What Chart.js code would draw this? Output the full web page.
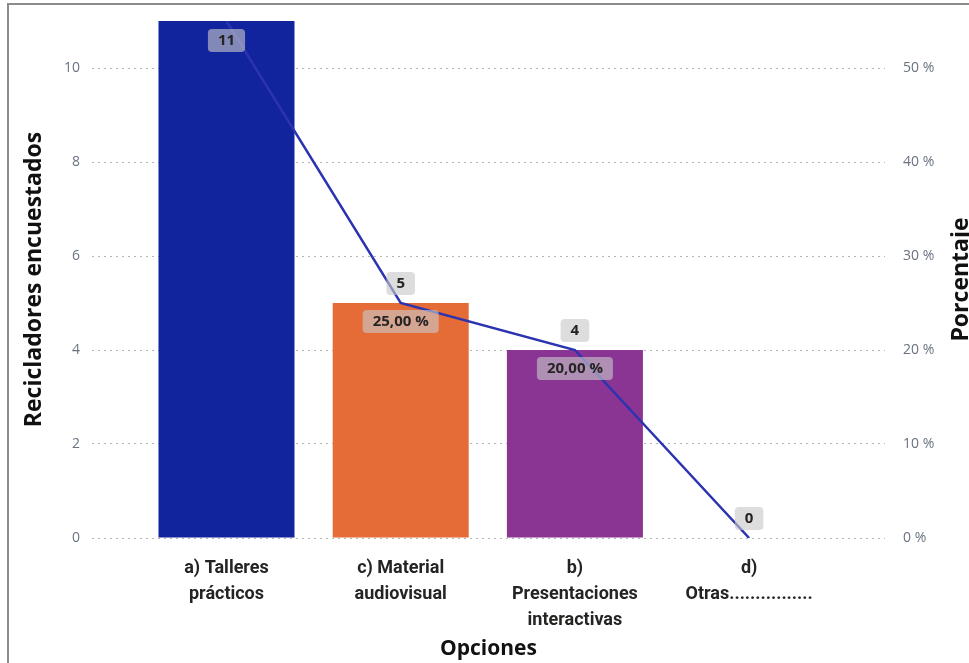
<!DOCTYPE html>
<html>
<head>
<meta charset="utf-8">
<script src="https://cdn.jsdelivr.net/npm/chart.js@4.4.1/dist/chart.umd.min.js"></script>
<style>
  html, body { margin: 0; padding: 0; background: #ffffff; overflow: hidden; width: 969px; height: 663px; }
  #frame { position: absolute; left: 7px; top: 3px; width: 980px; height: 680px;
           border-left: 2px solid #8c8c8c; border-top: 2px solid #8c8c8c; }
  #wrap { position: absolute; left: 0; top: 0; width: 985px; height: 663px; }
</style>
</head>
<body>
<div id="frame"></div>
<div id="wrap"><canvas id="chart" width="985" height="663"></canvas></div>
<script>
// Survey answers: how many recyclers chose each option, and its share
const categories = [
  ['a) Talleres', 'prácticos'],
  ['c) Material', 'audiovisual'],
  ['b)', 'Presentaciones', 'interactivas'],
  ['d)', 'Otras................']
];
const respondents = [11, 5, 4, 0];
const sharePct = [55, 25, 20, 0];
const barColors = ['#12239E', '#E66C37', '#8A3494', '#8A3494'];
const countTicks = [0, 2, 4, 6, 8, 10];
const pctTicks = [0, 10, 20, 30, 40, 50];

const tickColor = '#6a7282';
const sideTitleFont = { family: 'Open Sans', weight: 'bold', size: 23 };
const bottomTitleFont = { family: 'Open Sans', weight: 'bold', size: 21 };

function pctText(v) {
  return v.toFixed(2).replace('.', ',') + ' %';
}

// Grey rounded boxes with the value of each bar and each line point
const valueBoxes = {
  id: 'valueBoxes',
  afterDatasetsDraw(chart) {
    const ctx = chart.ctx;
    const area = chart.chartArea;
    const placed = [];
    const h = 23, padX = 10;
    ctx.save();
    ctx.font = 'bold 15px "Open Sans"';
    ctx.textAlign = 'center';
    ctx.textBaseline = 'middle';

    const drawBox = (b, text) => {
      ctx.fillStyle = 'rgba(200,200,200,0.62)';
      ctx.beginPath();
      ctx.roundRect(b.x, b.y, b.w, b.h, 4);
      ctx.fill();
      ctx.fillStyle = '#252423';
      ctx.fillText(text, b.x + b.w / 2, b.y + b.h / 2 + 0.5);
    };
    const overlaps = (a, b) =>
      a.x < b.x + b.w && b.x < a.x + a.w && a.y < b.y + b.h && b.y < a.y + a.h;

    chart.getDatasetMeta(1).data.forEach((bar, i) => {
      const text = String(respondents[i]);
      const w = ctx.measureText(text).width + 2 * padX;
      let top = bar.y - 8 - h;
      if (top < area.top) top = bar.y + 8;
      const box = { x: bar.x - w / 2, y: top, w: w, h: h };
      placed.push(box);
      drawBox(box, text);
    });

    chart.getDatasetMeta(0).data.forEach((pt, i) => {
      const text = pctText(sharePct[i]);
      const w = ctx.measureText(text).width + 2 * padX;
      const box = { x: pt.x - w / 2, y: pt.y + 7, w: w, h: h };
      if (box.y + box.h > area.bottom) return;
      if (placed.some(p => overlaps(p, box))) return;
      placed.push(box);
      drawBox(box, text);
    });
    ctx.restore();
  }
};

// Title of the right-hand axis, read from bottom to top like the left one
const rightAxisTitle = {
  id: 'rightAxisTitle',
  afterDraw(chart) {
    const ctx = chart.ctx;
    const area = chart.chartArea;
    ctx.save();
    ctx.translate(968, (area.top + area.bottom) / 2);
    ctx.rotate(-Math.PI / 2);
    ctx.font = 'bold 23px "Open Sans"';
    ctx.fillStyle = '#111111';
    ctx.textAlign = 'center';
    ctx.textBaseline = 'alphabetic';
    ctx.fillText('Porcentaje', 0, 0);
    ctx.restore();
  }
};

// Vertical axes: fixed width, no extra room reserved above or below
function fitVertical(width) {
  return (scale) => {
    scale.width = width;
    scale.paddingTop = 0;
    scale.paddingBottom = 0;
  };
}

new Chart(document.getElementById('chart'), {
  data: {
    datasets: [
      {
        type: 'line',
        label: 'Porcentaje',
        data: sharePct.map((v, i) => ({ x: i, y: v })),
        yAxisID: 'y1',
        borderColor: '#2B33B0',
        borderWidth: 2.5,
        pointRadius: 0,
        tension: 0,
        order: 0
      },
      {
        type: 'bar',
        label: 'Recicladores encuestados',
        data: respondents.map((v, i) => ({ x: i, y: v })),
        yAxisID: 'y',
        backgroundColor: barColors,
        barThickness: 136,
        inflateAmount: 0,
        order: 1
      }
    ]
  },
  options: {
    responsive: false,
    animation: false,
    layout: { padding: { top: 21, left: 0, right: 0, bottom: 0 } },
    plugins: { legend: { display: false }, tooltip: { enabled: false } },
    scales: {
      x: {
        type: 'linear',
        offset: false,
        min: -0.772,
        max: 3.78,
        grid: { display: false, offset: false },
        border: { display: false },
        afterBuildTicks: (scale) => { scale.ticks = categories.map((_, i) => ({ value: i })); },
        afterFit: (scale) => { scale.height = 125; },
        ticks: {
          autoSkip: false,
          maxRotation: 0,
          padding: 9,
          color: '#252423',
          font: { family: 'Roboto', weight: 'bold', size: 18, lineHeight: 1.45 },
          callback: (v) => categories[v]
        },
        title: {
          display: true,
          text: 'Opciones',
          color: '#111111',
          font: bottomTitleFont,
          padding: { top: 0, bottom: 1 }
        }
      },
      y: {
        position: 'left',
        min: 0,
        max: 11,
        afterBuildTicks: (scale) => { scale.ticks = countTicks.map(v => ({ value: v })); },
        afterFit: fitVertical(92),
        grid: { color: '#b5b5b5', lineWidth: 1, drawTicks: false },
        border: { display: false, dash: [2, 4] },
        ticks: {
          padding: 12,
          color: tickColor,
          font: { family: 'Open Sans', size: 14 }
        },
        title: {
          display: true,
          text: 'Recicladores encuestados',
          color: '#111111',
          font: sideTitleFont,
          padding: { top: 21, bottom: 0 }
        }
      },
      y1: {
        position: 'right',
        min: 0,
        max: 55,
        afterBuildTicks: (scale) => { scale.ticks = pctTicks.map(v => ({ value: v })); },
        afterFit: fitVertical(100),
        grid: { display: false, drawTicks: false },
        border: { display: false },
        ticks: {
          padding: 18,
          color: tickColor,
          font: { family: 'Open Sans', size: 14 },
          callback: (v) => v + ' %'
        }
      }
    }
  },
  plugins: [valueBoxes, rightAxisTitle]
});
</script>
</body>
</html>
